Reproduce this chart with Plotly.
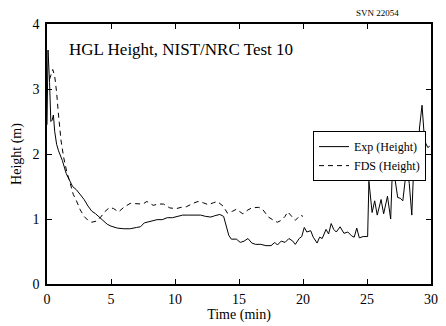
import plotly.graph_objects as go

exp_t = [0.0, 0.08, 0.2, 0.3, 0.4, 0.5, 0.6, 0.75, 0.9, 1.2, 1.5, 1.8, 2.0, 2.3, 2.6, 2.9, 3.2, 3.5, 3.8, 4.1,
         4.4, 4.7, 5.0, 5.5, 6.0, 6.5, 7.0, 7.3, 7.6, 8.0, 8.3, 8.6, 9.0, 9.4, 9.8, 10.2, 10.6, 11.0, 11.5, 12.0,
         12.4, 12.8, 13.1, 13.5, 13.8, 14.0, 14.2, 14.4, 14.8, 15.1, 15.4, 15.7, 16.0, 16.3, 16.7, 17.1, 17.5, 17.8, 18.0, 18.3,
         18.6, 18.9, 19.2, 19.4, 19.7, 19.9, 20.1, 20.3, 20.6, 20.8, 21.1, 21.3, 21.5, 21.8, 22.0, 22.2, 22.4, 22.6, 22.9, 23.2,
         23.5, 23.8, 24.0, 24.2, 24.4, 24.7, 25.05, 25.15, 25.4, 25.6, 25.8, 26.1, 26.3, 26.6, 26.85, 27.0, 27.2, 27.4, 27.6, 27.8,
         28.1, 28.3, 28.5, 28.75, 28.95, 29.1, 29.3, 29.5, 29.75, 29.9]
exp_h = [2.45, 3.6, 3.1, 2.5, 2.52, 2.6, 2.35, 2.15, 2.05, 1.9, 1.7, 1.57, 1.5, 1.45, 1.38, 1.3, 1.2, 1.12, 1.08, 1.03,
         0.97, 0.92, 0.89, 0.86, 0.85, 0.85, 0.87, 0.88, 0.94, 0.96, 0.98, 0.99, 0.99, 1.02, 1.02, 1.04, 1.06, 1.06, 1.06, 1.06,
         1.04, 1.03, 1.05, 1.07, 1.04, 0.9, 0.75, 0.69, 0.69, 0.64, 0.66, 0.7, 0.63, 0.61, 0.61, 0.59, 0.59, 0.64, 0.6, 0.66,
         0.64, 0.7, 0.66, 0.61, 0.7, 0.73, 0.87, 0.8, 0.82, 0.72, 0.63, 0.72, 0.7, 0.84, 0.77, 0.93, 0.84, 0.8, 0.88, 0.78,
         0.8, 0.74, 0.72, 0.86, 0.71, 0.73, 0.73, 1.58, 1.1, 1.28, 1.06, 1.3, 1.08, 1.35, 1.0, 1.86, 1.56, 1.33, 1.32, 1.28,
         1.8, 1.55, 1.06, 2.3, 1.7, 2.4, 2.75, 2.2, 2.1, 2.12]

fds_t = [0.2, 0.45, 0.6, 0.75, 0.9, 1.1, 1.3, 1.55, 1.8, 2.05, 2.3, 2.6, 2.9, 3.2, 3.5, 3.9, 4.2, 4.5, 4.9, 5.2,
         5.6, 6.0, 6.5, 7.0, 7.5, 7.8, 8.3, 8.7, 9.1, 9.6, 10.1, 10.5, 10.9, 11.4, 11.8, 12.2, 12.6, 13.0, 13.3, 13.75,
         14.1, 14.5, 14.8, 15.3, 15.7, 16.0, 16.5, 16.8, 17.3, 17.7, 18.0, 18.3, 18.6, 18.8, 19.1, 19.4, 19.8, 20.0]
fds_h = [3.15, 3.3, 3.2, 2.95, 2.6, 2.2, 1.95, 1.72, 1.56, 1.38, 1.28, 1.14, 1.04, 0.98, 0.95, 0.97, 1.03, 1.11, 1.18, 1.16,
         1.11, 1.18, 1.24, 1.24, 1.23, 1.27, 1.21, 1.23, 1.23, 1.17, 1.16, 1.18, 1.19, 1.24, 1.27, 1.25, 1.22, 1.25, 1.27, 1.2,
         1.09, 1.12, 1.15, 1.08, 1.14, 1.17, 1.18, 1.16, 1.03, 0.98, 0.95, 0.98, 1.04, 1.11, 1.05, 0.98, 1.06, 1.04]

x_ticks = [0, 5, 10, 15, 20, 25, 30]
y_ticks = [0, 1, 2, 3, 4]

FONT = "Liberation Serif, Times New Roman, serif"

fig = go.Figure()
fig.add_trace(go.Scatter(x=exp_t, y=exp_h, mode="lines", name="Exp (Height)",
                         line=dict(color="black", width=1)))
fig.add_trace(go.Scatter(x=fds_t, y=fds_h, mode="lines", name="FDS (Height)",
                         line=dict(color="black", width=1, dash="5px,4px")))

axis_common = dict(showgrid=False, zeroline=False, showline=True, linecolor="black", linewidth=1.5,
                   mirror="ticks", ticks="inside", ticklen=5, tickcolor="black", tickwidth=1,
                   automargin=False,
                   tickfont=dict(family=FONT, size=14, color="black"))

fig.update_layout(
    width=446, height=326,
    margin=dict(l=47, r=15, t=24, b=42),
    paper_bgcolor="white", plot_bgcolor="white",
    font=dict(family=FONT, color="black"),
    xaxis=dict(range=[0, 30], tickvals=x_ticks, ticktext=[str(v) for v in x_ticks], ticklabelstandoff=1,
               title=dict(text="Time (min)", font=dict(family=FONT, size=14), standoff=4), **axis_common),
    yaxis=dict(range=[0, 4], tickvals=y_ticks, ticktext=[str(v) for v in y_ticks], ticklabelstandoff=3,
               title=dict(text="Height (m)", font=dict(family=FONT, size=14), standoff=8), **axis_common),
    showlegend=True,
    legend=dict(x=0.987, y=0.588, xanchor="right", yanchor="top", bgcolor="white",
                bordercolor="black", borderwidth=1, font=dict(family=FONT, size=12),
                itemwidth=30, tracegroupgap=0),
    annotations=[
        dict(text="HGL Height, NIST/NRC Test 10", xref="paper", yref="paper", x=0.052, y=0.9,
             xanchor="left", yanchor="middle", showarrow=False, font=dict(family=FONT, size=17)),
        dict(text="SVN 22054", xref="paper", yref="paper", x=0.861, y=1.042,
             xanchor="center", yanchor="middle", showarrow=False, font=dict(family=FONT, size=9)),
    ],
)

fig.write_html("out.html", config={"displayModeBar": False},
               post_script="document.body.style.margin='0';document.body.style.overflow='hidden';")
